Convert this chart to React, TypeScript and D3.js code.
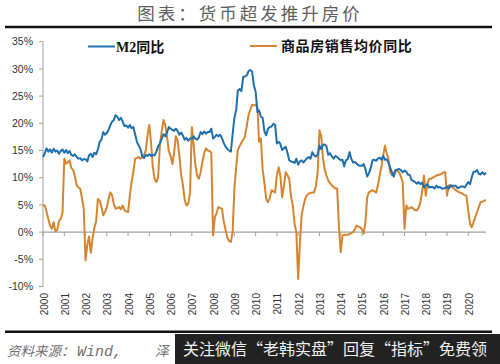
import React from 'react';
import * as d3 from 'd3';

// monthly, Jan 2000 .. Nov 2020
const m2 = [
    13.8, 14.5, 15.4, 14.8, 15.2, 14.6, 15.3, 14.8, 15.0, 14.4, 14.9, 15.2, // 2000
    14.6, 15.1, 14.5, 14.9, 14.2, 14.0, 14.3, 13.8, 13.5, 13.6, 13.2, 13.4, // 2001
    13.4, 13.0, 14.1, 14.4, 13.8, 14.6, 14.3, 15.2, 16.6, 17.0, 18.4, 17.9, // 2002
    18.2, 18.8, 19.6, 20.3, 20.6, 21.5, 21.2, 20.6, 21.0, 20.3, 19.5, 19.6, // 2003
    19.2, 19.7, 19.1, 19.3, 18.0, 16.6, 15.9, 15.3, 13.9, 13.6, 14.2, 14.0, // 2004
    14.3, 14.0, 14.2, 14.1, 14.8, 15.8, 16.3, 17.2, 18.0, 17.6, 18.3, 19.3, // 2005
    19.0, 18.8, 18.6, 19.0, 18.6, 17.9, 18.3, 17.7, 17.0, 17.3, 16.8, 17.2, // 2006
    17.2, 17.6, 17.2, 17.0, 17.4, 18.4, 18.0, 18.5, 18.1, 18.4, 18.4, 19.0, // 2007
    17.2, 17.5, 17.9, 17.6, 17.9, 17.3, 16.4, 15.7, 15.3, 15.0, 14.8, 17.9, // 2008
    21.0, 22.5, 26.0, 26.3, 25.9, 28.5, 28.6, 28.8, 29.6, 29.8, 29.5, 27.0, // 2009
    25.8, 22.1, 22.4, 21.2, 21.0, 18.5, 17.8, 19.0, 19.3, 19.4, 19.9, 19.7, // 2010
    16.3, 16.6, 16.2, 15.1, 15.4, 15.7, 14.6, 13.2, 13.0, 12.9, 12.7, 13.5, // 2011
    12.4, 13.0, 13.2, 12.8, 13.2, 13.6, 13.8, 13.5, 14.7, 14.1, 13.9, 14.2, // 2012
    15.9, 15.2, 16.0, 16.1, 15.8, 14.2, 14.5, 13.9, 13.5, 14.0, 13.8, 13.5, // 2013
    13.2, 13.3, 12.1, 13.2, 13.4, 14.7, 13.5, 12.8, 12.9, 12.6, 12.3, 12.2, // 2014
    12.2, 12.5, 11.6, 10.2, 10.8, 11.8, 13.2, 13.3, 13.1, 13.5, 13.7, 13.3, // 2015
    14.0, 13.3, 13.4, 12.8, 11.8, 11.0, 10.2, 11.4, 11.5, 11.6, 11.4, 11.0, // 2016
    11.3, 11.1, 10.6, 10.5, 9.6, 9.4, 9.2, 8.9, 9.2, 8.8, 9.1, 8.2, // 2017
    8.6, 8.8, 8.2, 8.3, 8.3, 8.0, 8.5, 8.2, 8.3, 8.0, 8.0, 8.1, // 2018
    8.4, 8.0, 8.6, 8.5, 8.5, 8.5, 8.1, 8.2, 8.4, 8.4, 8.2, 8.7, // 2019
    9.2, 8.8, 10.1, 11.1, 11.1, 11.4, 10.7, 10.6, 11.0, 10.6, 10.9, // 2020
];

const price = [
    4.9, 4.9, 3.8, 2.4, 1.2, 0.6, 1.8, 0.1, 0.4, 2.0, 2.5, 3.5, // 2000
    13.5, 12.6, 12.8, 13.2, 11.8, 11.4, 10.3, 8.6, 8.2, 8.0, 6.2, 4.3, // 2001
    -5.2, -2.3, -0.8, -3.8, -1.3, 0.8, 1.9, 6.1, 5.8, 4.6, 3.1, 3.7, // 2002
    4.5, 6.1, 7.3, 6.8, 5.2, 4.3, 4.4, 4.6, 4.2, 4.9, 4.0, 3.8, // 2003
    3.7, 6.7, 9.2, 11.0, 13.5, 13.6, 13.8, 13.5, 13.8, 14.2, 15.0, 17.8, // 2004
    19.7, 16.2, 12.0, 9.8, 9.2, 10.1, 16.0, 18.5, 20.6, 19.7, 17.5, 14.9, // 2005
    14.0, 12.5, 14.5, 17.6, 16.8, 14.0, 10.5, 8.6, 5.9, 4.9, 5.2, 7.3, // 2006
    19.3, 16.0, 12.5, 10.4, 9.8, 11.0, 12.9, 14.5, 15.4, 15.0, 14.9, 14.6, // 2007
    -0.6, 2.8, 3.5, 4.6, 4.4, 4.3, 2.0, 0.5, -1.0, -1.6, -1.8, 0.0, // 2008
    8.0, 12.0, 15.1, 15.8, 16.4, 17.0, 17.6, 19.5, 21.5, 22.5, 23.4, 23.3, // 2009
    23.4, 22.8, 16.6, 17.2, 11.5, 9.0, 6.1, 5.5, 6.3, 7.7, 7.5, 7.3, // 2010
    10.5, 11.9, 10.4, 6.4, 8.5, 11.0, 10.5, 9.8, 6.5, 4.9, 1.5, 0.0, // 2011
    -8.6, -1.8, 3.1, 4.8, 6.1, 6.8, 7.1, 7.2, 7.3, 7.3, 8.5, 11.0, // 2012
    18.7, 17.6, 13.8, 11.5, 10.4, 9.5, 9.0, 8.6, 8.3, 8.0, 8.0, 1.2, // 2013
    -3.7, -0.6, -0.5, -0.5, -0.5, -0.4, -0.2, 0.0, 0.5, 1.2, 1.0, 0.9, // 2014
    0.5, -0.3, 1.8, 6.4, 7.3, 7.5, 7.7, 7.5, 7.3, 8.5, 10.4, 12.0, // 2015
    14.1, 15.9, 14.5, 13.5, 11.0, 10.4, 10.8, 11.4, 11.2, 11.0, 10.2, 9.2, // 2016
    0.6, 4.9, 4.3, 4.4, 4.6, 4.3, 4.0, 4.0, 4.5, 5.5, 7.5, 10.4, // 2017
    6.7, 9.0, 9.8, 9.8, 10.0, 10.2, 10.4, 10.5, 10.6, 10.7, 11.0, 11.0, // 2018
    6.7, 8.6, 8.3, 8.3, 8.0, 7.7, 7.5, 7.3, 7.2, 7.0, 6.8, 6.7, // 2019
    4.0, 1.5, 0.9, 1.8, 2.8, 3.7, 4.6, 5.5, 5.6, 5.8, 5.8, // 2020
];

const yTicks = [35, 30, 25, 20, 15, 10, 5, 0, -5, -10];
const years = d3.range(2000, 2021);
const legendNames = ['M2同比', '商品房销售均价同比'];

const BLUE = '#1f6fae';
const ORANGE = '#d6842f';

const App: React.FC = () => {
    const x = d3.scaleTime()
        .domain([new Date(2000, 0, 1), new Date(2020, 10, 1)])
        .range([43, 486]);
    const y = d3.scaleLinear().domain([-10, 35]).range([286.5, 41.7]);

    const toPts = (arr: number[]) => arr.map((v, i) => ({ date: new Date(2000, i, 1), v }));
    const line = d3.line<{ date: Date; v: number }>()
        .x((d) => x(d.date))
        .y((d) => y(d.v));

    const y0 = y(0);

    return (
        <svg width={500} height={364} style={{ position: 'absolute', left: 0, top: 0, background: '#fff' }}>
            <text x={250} y={20} textAnchor="middle" fontSize={17.5} letterSpacing={3}
                fill="#606060" fontFamily="'Noto Sans CJK SC', sans-serif">图表：货币超发推升房价</text>
            <line x1={5} x2={492} y1={27} y2={27} stroke="#111" strokeWidth={2.5} />

            {/* y axis */}
            <line x1={43} x2={43} y1={y(35)} y2={y(-10)} stroke="#a0a0a0" strokeWidth={1} />
            {yTicks.map((t) => (
                <g key={t}>
                    <line x1={39} x2={43} y1={y(t)} y2={y(t)} stroke="#a0a0a0" />
                    <text x={33} y={y(t)} dy="0.35em" textAnchor="end" fontSize={10.5}
                        fill="#333" fontFamily="'Liberation Sans', Arial, sans-serif">{t}%</text>
                </g>
            ))}

            {/* x axis at 0% */}
            <line x1={43} x2={486} y1={y0} y2={y0} stroke="#a0a0a0" strokeWidth={1.2} />
            {years.map((yr) => {
                const xp = x(new Date(yr, 0, 1));
                return (
                    <g key={yr}>
                        <line x1={xp} x2={xp} y1={y0} y2={y0 + 4} stroke="#a0a0a0" />
                        <text transform={`translate(${xp + 1},293) rotate(-90)`} dy="0.35em"
                            textAnchor="end" fontSize={10} fill="#333"
                            fontFamily="'Liberation Sans', Arial, sans-serif">{yr}</text>
                    </g>
                );
            })}

            <path d={line(toPts(price)) ?? ''} fill="none" stroke={ORANGE} strokeWidth={2} strokeLinejoin="round" />
            <path d={line(toPts(m2)) ?? ''} fill="none" stroke={BLUE} strokeWidth={2} strokeLinejoin="round" />

            {/* legend */}
            <line x1={88} x2={115} y1={46.5} y2={46.5} stroke={BLUE} strokeWidth={2} />
            <text x={116} y={51.5} fontSize={14} fontWeight="bold" fill="#111"
                fontFamily="'Liberation Serif', 'Noto Sans CJK SC', serif">{legendNames[0]}</text>
            <line x1={250} x2={277} y1={46} y2={46} stroke={ORANGE} strokeWidth={2} />
            <text x={281} y={51} fontSize={14} fontWeight="bold" fill="#111" letterSpacing={0.6}
                fontFamily="'Liberation Serif', 'Noto Sans CJK SC', serif">{legendNames[1]}</text>

            <line x1={5} x2={492} y1={331.7} y2={331.7} stroke="#111" strokeWidth={2.5} />
            <text x={7} y={356} fontSize={13.5} fontStyle="italic" fill="#707070"
                fontFamily="'Noto Sans CJK SC', sans-serif">资料来源：</text>
            <text x={77} y={356} fontSize={15} fontStyle="italic" fill="#707070"
                fontFamily="'Liberation Mono', monospace">Wind,</text>
            <text x={155} y={356} fontSize={14} fontStyle="italic" fill="#707070"
                fontFamily="'Noto Sans CJK SC', sans-serif">泽</text>
            <rect x={175} y={334} width={325} height={30} fill="#222" />
            <text x={183} y={355} fontSize={16} fill="#f2f2f2"
                fontFamily="'Noto Sans CJK SC', sans-serif">关注微信“老韩实盘”回复“指标”免费领</text>
        </svg>
    );
};

export default App;
